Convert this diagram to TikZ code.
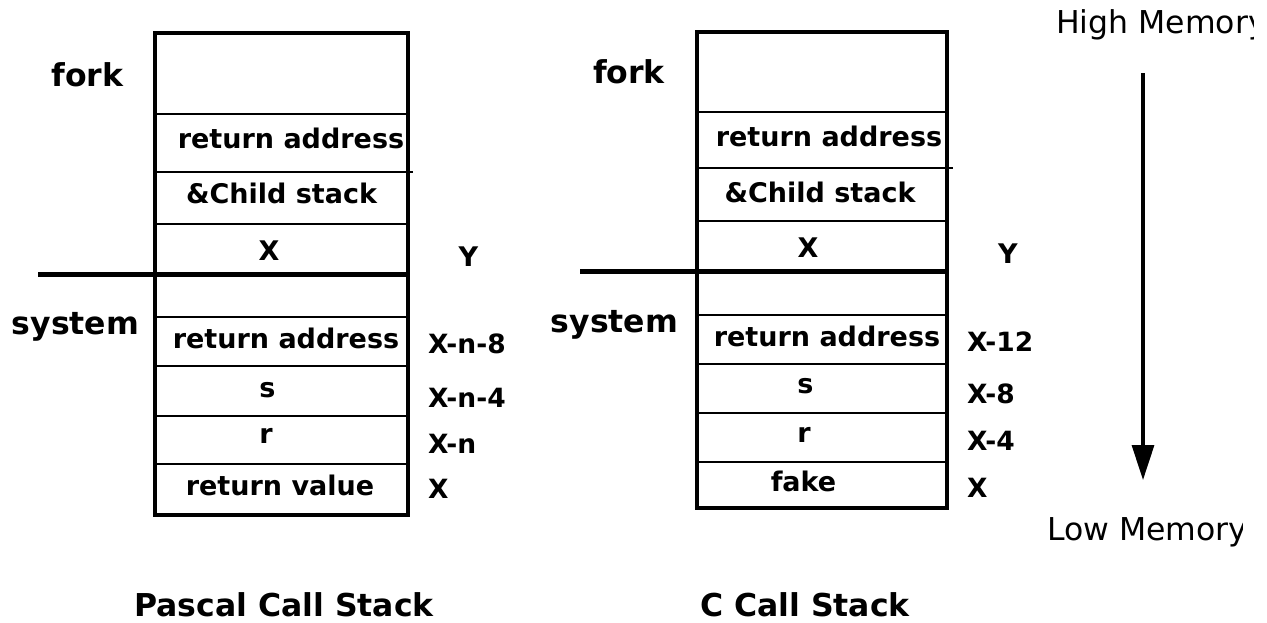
\documentclass[tikz,border=0pt]{standalone}
\usepackage{fontspec}
\setmainfont{DejaVu Sans}
\usetikzlibrary{arrows.meta}
\begin{document}
\begin{tikzpicture}[x=1pt,y=-1pt,
  cellbox/.style={draw, line width=2.6pt, inner sep=0pt, outer sep=0pt, anchor=north west},
  outerline/.style={line width=3.6pt},
  sepline/.style={line width=5pt},
  thinline/.style={line width=2.6pt},
  lbl/.style={font=\bfseries\fontsize{27}{31}\selectfont, inner sep=0pt, anchor=base},
  addr/.style={font=\bfseries\fontsize{26.5}{30}\selectfont, inner sep=0pt, anchor=base west},
  side/.style={font=\bfseries\fontsize{31.5}{36}\selectfont, inner sep=0pt, anchor=base},
  memlbl/.style={font=\fontsize{31.5}{36}\selectfont, inner sep=0pt, anchor=base west},
  arrowline/.style={line width=3.2pt, -{Triangle[length=35pt,width=22pt]}}]
\useasboundingbox (0,0) rectangle (1267,622);

% ---------- Pascal stack ----------
\node[cellbox, minimum width=253pt, minimum height=81pt] (L1) at (155,33) {};
\node[cellbox, minimum width=253pt, minimum height=58pt] (L2) at (155,114) {};
\node[cellbox, minimum width=253pt, minimum height=52pt] (L3) at (155,172) {};
\node[cellbox, minimum width=253pt, minimum height=50pt] (L4) at (155,224) {};
\node[cellbox, minimum width=253pt, minimum height=43pt] (L5) at (155,274) {};
\node[cellbox, minimum width=253pt, minimum height=49pt] (L6) at (155,317) {};
\node[cellbox, minimum width=253pt, minimum height=50pt] (L7) at (155,366) {};
\node[cellbox, minimum width=253pt, minimum height=48pt] (L8) at (155,416) {};
\node[cellbox, minimum width=253pt, minimum height=51pt] (L9) at (155,464) {};
\draw[outerline] (L1.north west) rectangle (L9.south east);
\coordinate (Lext) at (413,172);
\draw[thinline] (L3.north east) -- (Lext);
\coordinate (Lsep) at (38,274);
\draw[sepline] (Lsep) -- ([xshift=2pt]L5.north east);

\node[side] (Lfork) at (87.5,86.5) {fork};
\node[side] (Lsys) at (75.5,334) {system};
\node[lbl] (L2t) at (291,148) {return address};
\node[lbl] (L3t) at (281.5,203) {\&Child stack};
\node[lbl] (L4t) at (269,260) {X};
\node[lbl] (Ly) at (468.5,266.5) {Y};
\node[lbl] (L6t) at (286,348) {return address};
\node[lbl] (L7t) at (267.5,397) {s};
\node[lbl] (L8t) at (266,443) {r};
\node[lbl] (L9t) at (280,495) {return value};
\node[addr] (La1) at (428,353) {X-n-8};
\node[addr] (La2) at (428,407) {X-n-4};
\node[addr] (La3) at (428,453) {X-n};
\node[addr] (La4) at (428,498) {X};
\node[side] (Ltitle) at (284,616) {Pascal Call Stack};

% ---------- C stack ----------
\node[cellbox, minimum width=250pt, minimum height=80pt] (R1) at (697,32) {};
\node[cellbox, minimum width=250pt, minimum height=56pt] (R2) at (697,112) {};
\node[cellbox, minimum width=250pt, minimum height=53pt] (R3) at (697,168) {};
\node[cellbox, minimum width=250pt, minimum height=50pt] (R4) at (697,221) {};
\node[cellbox, minimum width=250pt, minimum height=44pt] (R5) at (697,271) {};
\node[cellbox, minimum width=250pt, minimum height=49pt] (R6) at (697,315) {};
\node[cellbox, minimum width=250pt, minimum height=49pt] (R7) at (697,364) {};
\node[cellbox, minimum width=250pt, minimum height=49pt] (R8) at (697,413) {};
\node[cellbox, minimum width=250pt, minimum height=46pt] (R9) at (697,462) {};
\draw[outerline] (R1.north west) rectangle (R9.south east);
\coordinate (Rext) at (953,168);
\draw[thinline] (R3.north east) -- (Rext);
\coordinate (Rsep) at (580,271);
\draw[sepline] (Rsep) -- (R5.north east);

\node[side] (Rfork) at (629,83) {fork};
\node[side] (Rsys) at (614.5,332) {system};
\node[lbl] (R2t) at (829,146) {return address};
\node[lbl] (R3t) at (820,202) {\&Child stack};
\node[lbl] (R4t) at (808,257) {X};
\node[lbl] (Ry) at (1008,263) {Y};
\node[lbl] (R6t) at (827,346) {return address};
\node[lbl] (R7t) at (805.5,393) {s};
\node[lbl] (R8t) at (804,442) {r};
\node[lbl] (R9t) at (803.5,491) {fake};
\node[addr] (Ra1) at (967,351) {X-12};
\node[addr] (Ra2) at (967,403) {X-8};
\node[addr] (Ra3) at (967,450) {X-4};
\node[addr] (Ra4) at (967,497) {X};
\node[side] (Rtitle) at (805,616) {C Call Stack};

% ---------- memory direction ----------
\begin{scope}
  \clip (1040,0) rectangle (1253,60);
  \node[memlbl] (high) at (1056,33) {High Memory};
\end{scope}
\begin{scope}
  \clip (1040,500) rectangle (1242,570);
  \node[memlbl] (low) at (1047,540) {Low Memory};
\end{scope}
\coordinate (atop) at (1143,73);
\coordinate (abot) at (1143,480);
\draw[arrowline] (atop) -- (abot);
\end{tikzpicture}
\end{document}
